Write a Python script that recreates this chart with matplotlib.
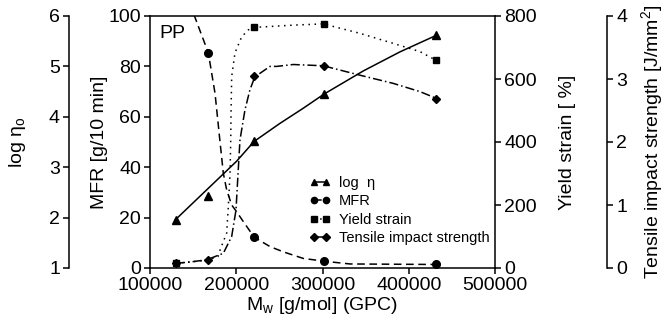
import matplotlib
matplotlib.use('Agg')
import matplotlib.pyplot as plt
from matplotlib.lines import Line2D

plt.rcParams['font.family'] = ['Liberation Sans', 'DejaVu Sans']
plt.rcParams['mathtext.fontset'] = 'custom'
plt.rcParams['mathtext.rm'] = 'Liberation Sans'
plt.rcParams['mathtext.it'] = 'Liberation Sans:italic'
plt.rcParams['font.size'] = 14

# measured points (Mw in g/mol)
mw = [130000, 167000, 221000, 302000, 432000]
log_eta = [1.95, 2.43, 3.51, 4.45, 5.62]
mfr_mw = [167000, 221000, 302000, 432000]
mfr = [85.4, 12.2, 2.9, 1.4]
ys_mw = [130000, 221000, 302000, 432000]
yield_strain = [15, 764, 775, 660]
tis = [0.075, 0.13, 3.04, 3.21, 2.69]

# fitted curves
eta_curve_x = [129000, 200500, 220600, 250700, 277700, 301700, 347300, 390000, 432400]
eta_curve_y = [1.95, 3.12, 3.51, 3.87, 4.17, 4.45, 4.91, 5.29, 5.62]

mfr_curve_x = [151000, 167600, 175400, 180600, 185000, 188900, 194700, 200500, 208200,
               220900, 239100, 254600, 277700, 301700, 331900, 432000]
mfr_curve_y = [100.5, 85.4, 69.3, 52.0, 37.6, 31.0, 25.0, 22.3, 18.4,
               12.2, 8.5, 6.4, 3.8, 2.7, 1.6, 1.4]

ys_curve_x = [130000, 146400, 166100, 178800, 181200, 188900, 190800, 192800, 193600,
              194000, 194700, 198500, 206300, 214000, 222500, 266100, 300900, 343400,
              382100, 413000, 431200]
ys_curve_y = [15, 19, 25, 36, 57, 111, 195, 302, 406,
              502, 607, 683, 734, 756, 764, 771, 775, 745,
              713, 687, 660]

tis_curve_x = [130000, 146400, 165700, 185000, 194700, 199700, 202000, 204300, 210100,
               215900, 221700, 227500, 239100, 246900, 266100, 300900, 343500, 382100,
               413000, 432400]
tis_curve_y = [0.075, 0.095, 0.13, 0.233, 0.50, 0.92, 1.48, 2.03, 2.51,
               2.83, 3.04, 3.09, 3.20, 3.20, 3.23, 3.21, 3.06, 2.93,
               2.80, 2.69]

fig = plt.figure(figsize=(6.67, 3.27), dpi=100)
ax = fig.add_axes([150 / 667, 1 - 268 / 327, 345 / 667, 252 / 327])

ax_eta = ax.twinx()
ax_ys = ax.twinx()
ax_tis = ax.twinx()

lw_sp = 1.1
tick_kw = dict(direction='out', length=4.5, width=lw_sp, pad=2)

# main axes: MFR
ax.set_xlim(100000, 500000)
ax.set_ylim(0, 100)
ax.set_xticks([100000, 200000, 300000, 400000, 500000])
ax.set_yticks([0, 20, 40, 60, 80, 100])
ax.tick_params(**tick_kw)
ax.spines['right'].set_visible(False)
for s in ['left', 'top', 'bottom']:
    ax.spines[s].set_linewidth(lw_sp)
ax.set_ylabel('MFR [g/10 min]', labelpad=0)
ax.set_xlabel('M$_\\mathregular{w}$ [g/mol] (GPC)', labelpad=1)

# log eta axis (far left)
ax_eta.set_ylim(1, 6)
ax_eta.set_yticks([1, 2, 3, 4, 5, 6])
ax_eta.yaxis.set_ticks_position('left')
ax_eta.yaxis.set_label_position('left')
ax_eta.spines['left'].set_position(('axes', (69 - 150) / 345))
for s in ['right', 'top', 'bottom']:
    ax_eta.spines[s].set_visible(False)
ax_eta.spines['left'].set_linewidth(lw_sp)
ax_eta.tick_params(**tick_kw)
ax_eta.set_ylabel('log η$_\\mathregular{o}$', labelpad=15)

# yield strain axis
ax_ys.set_ylim(0, 800)
ax_ys.set_yticks([0, 200, 400, 600, 800])
for s in ['left', 'top', 'bottom']:
    ax_ys.spines[s].set_visible(False)
ax_ys.spines['right'].set_linewidth(lw_sp)
ax_ys.tick_params(**tick_kw)
ax_ys.set_ylabel('Yield strain [ %]', labelpad=16)

# tensile impact strength axis
ax_tis.set_ylim(0, 4)
ax_tis.set_yticks([0, 1, 2, 3, 4])
ax_tis.spines['right'].set_position(('axes', (607 - 150) / 345))
for s in ['left', 'top', 'bottom']:
    ax_tis.spines[s].set_visible(False)
ax_tis.spines['right'].set_linewidth(lw_sp)
ax_tis.tick_params(**tick_kw)
ax_tis.set_ylabel('Tensile impact strength [J/mm$^\\mathregular{2}$]', labelpad=9)

ms = 5.5
# curves
ax_eta.plot(eta_curve_x, eta_curve_y, color='black', lw=1.1, ls='-')
ax.plot(mfr_curve_x, mfr_curve_y, color='black', lw=1.1, ls=(0, (5, 3)))
ax_ys.plot(ys_curve_x, ys_curve_y, color='black', lw=1.1, ls=(0, (1, 3)))
ax_tis.plot(tis_curve_x, tis_curve_y, color='black', lw=1.1, ls=(0, (6, 2, 1, 2)))

# markers
ax_eta.plot(mw, log_eta, 'k^', ms=ms, ls='none')
ax.plot(mfr_mw, mfr, 'ko', ms=ms, ls='none')
ax_ys.plot(ys_mw, yield_strain, 'ks', ms=ms - 0.5, ls='none')
ax_tis.plot(mw, tis, 'kD', ms=4.3, ls='none')

ax.text(0.027, 0.965, 'PP', transform=ax.transAxes, va='top', ha='left', fontsize=14)

# legend
lms = 4.5
handles = [
    Line2D([], [], color='black', lw=1.1, ls='-', marker='^', ms=lms),
    Line2D([], [], color='black', lw=1.1, ls=(0, (5, 3)), marker='o', ms=lms),
    Line2D([], [], color='black', lw=1.1, ls=(0, (1, 3)), marker='s', ms=lms - 0.5),
    Line2D([], [], color='black', lw=1.1, ls=(0, (6, 2, 1, 2)), marker='D', ms=lms - 0.8),
]
labels = ['log  η', 'MFR', 'Yield strain', 'Tensile impact strength']
leg = fig.legend(handles, labels, loc='upper left', bbox_to_anchor=(310 / 667, 1 - 176 / 327),
                 frameon=False, fontsize=10.5, numpoints=2, handlelength=1.4,
                 handletextpad=0.6, labelspacing=0.3, borderpad=0, borderaxespad=0)

fig.savefig('out.png', dpi=100)
